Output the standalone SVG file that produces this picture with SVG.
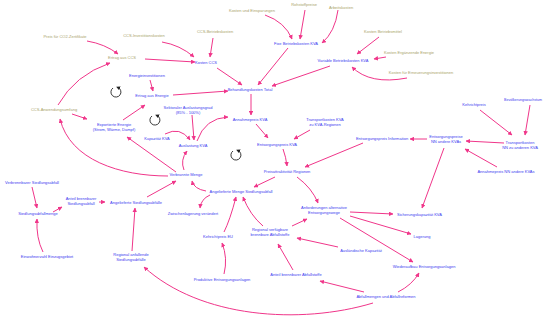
<svg xmlns="http://www.w3.org/2000/svg" width="544" height="324" viewBox="0 0 544 324">
<defs>
<marker id="ah" viewBox="0 0 10 10" refX="9" refY="5" markerWidth="4.5" markerHeight="4.5" markerUnits="userSpaceOnUse" orient="auto"><path d="M0,0 L10,5 L0,10 Z" fill="#f0368a"/></marker>
<marker id="lh" viewBox="0 0 10 10" refX="5" refY="5" markerWidth="4" markerHeight="4" markerUnits="userSpaceOnUse" orient="auto"><path d="M0,0 L10,5 L0,10 Z" fill="#222"/></marker>
</defs>
<style>
text{font-family:"Liberation Sans",Arial,sans-serif;font-size:4px;text-anchor:middle}
.b{fill:#3c3cf0}
.o{fill:#a9a46a}
#connectors path{fill:none;stroke:#f0368a;stroke-width:1;marker-end:url(#ah)}
.loop path{fill:none;stroke:#222;stroke-width:0.9;marker-end:url(#lh)}
</style>
<rect width="544" height="324" fill="#fff"/>
<g id="connectors">
<path d="M87,41 Q105,44 118,54"/>
<path d="M58,105 Q75,75 110,63"/>
<path d="M162,42 Q180,45 194,57"/>
<path d="M145,59 L195,62"/>
<path d="M213,38 L210,57"/>
<path d="M217,68 L242,85"/>
<path d="M288,48 L258,85"/>
<path d="M330,66 L272,86"/>
<path d="M265,15 Q285,22 292,39"/>
<path d="M305,10 L300,39"/>
<path d="M338,10 Q335,32 322,43"/>
<path d="M379,37 L357,54"/>
<path d="M386,57 L374,59"/>
<path d="M407,78 Q370,85 352,67"/>
<path d="M173,95 L228,91"/>
<path d="M150,80 L153,91"/>
<path d="M123,120 L145,105"/>
<path d="M72,114 L87,119"/>
<path d="M176,172 L127,137"/>
<path d="M168,176 C120,176 70,160 60,119"/>
<path d="M165,134 Q180,126 190,140"/>
<path d="M192,115 L194,140"/>
<path d="M197,141 Q205,118 228,117"/>
<path d="M251,94 L251,115"/>
<path d="M256,124 L268,138"/>
<path d="M310,130 L294,139"/>
<path d="M283,149 Q286,157 287,166"/>
<path d="M363,143 L305,167"/>
<path d="M275,177 L254,187"/>
<path d="M297,177 Q312,188 318,203"/>
<path d="M206,191 Q194,189 192,181"/>
<path d="M184,170 Q180,160 187,151"/>
<path d="M210,195 Q201,199 200,208"/>
<path d="M224,232 Q230,220 236,197"/>
<path d="M263,226 Q250,215 243,197"/>
<path d="M224,274 Q228,258 222,243"/>
<path d="M292,226 L307,219"/>
<path d="M338,247 L297,238"/>
<path d="M293,270 L278,244"/>
<path d="M364,292 L320,281"/>
<path d="M373,303 C300,325 200,318 144,267"/>
<path d="M398,292 Q412,285 419,273"/>
<path d="M350,212 L393,214"/>
<path d="M350,216 L411,234"/>
<path d="M340,218 L413,262"/>
<path d="M444,148 L422,208"/>
<path d="M427,139 L410,139"/>
<path d="M504,143 L466,141"/>
<path d="M497,167 L465,149"/>
<path d="M480,110 L512,135"/>
<path d="M530,105 L525,135"/>
<path d="M32,187 L37,208"/>
<path d="M43,252 Q36,238 37,219"/>
<path d="M53,212 L62,207"/>
<path d="M99,202 L105,202"/>
<path d="M147,197 L176,181"/>
<path d="M132,251 L135,208"/>
</g>
<g class="loop" id="loop1"><path d="M113,88 A5,5 0 1,0 118,87.5"/></g>
<g class="loop" id="loop2"><path d="M152,116 A5,5 0 1,0 157,115.5"/></g>
<g class="loop" id="loop3"><path d="M233,151 A5,5 0 1,0 238,150.5"/></g>
<g id="preis_co2"><text class="o" x="65" y="38">Preis für CO2-Zertifikate</text></g>
<g id="ertrag_ccs"><text class="o" x="122" y="59">Ertrag aus CCS</text></g>
<g id="ccs_invest"><text class="o" x="144" y="37">CCS-Investitionskosten</text></g>
<g id="ccs_betrieb"><text class="o" x="215" y="33">CCS-Betriebskosten</text></g>
<g id="kosten_einsp"><text class="o" x="252" y="12">Kosten und Einsparungen</text></g>
<g id="rohstoff"><text class="o" x="304" y="6">Rohstoffpreise</text></g>
<g id="arbeitskosten"><text class="o" x="341" y="9">Arbeitskosten</text></g>
<g id="kosten_ccs"><text class="b" x="206" y="64">Kosten CCS</text></g>
<g id="fixe"><text class="b" x="296" y="45">Fixe Betriebskosten KVA</text></g>
<g id="variable"><text class="b" x="343" y="62">Variable Betriebskosten KVA</text></g>
<g id="kosten_bm"><text class="o" x="383" y="33">Kosten Betriebsmittel</text></g>
<g id="kosten_energie"><text class="o" x="409" y="54">Kosten Ergänzende Energie</text></g>
<g id="kosten_erneuerung"><text class="o" x="421" y="74">Kosten für Erneuerungsinvestitionen</text></g>
<g id="behandlung"><text class="b" x="250" y="91">Behandlungskosten Total</text></g>
<g id="energieinv"><text class="b" x="147" y="77">Energieinvestitionen</text></g>
<g id="ertrag_energie"><text class="b" x="152" y="97">Ertrag aus Energie</text></g>
<g id="ccs_anw"><text class="o" x="54" y="111">CCS-Anwendungsumfang</text></g>
<g id="sektoral"><text class="b" x="188" y="109">Sektoraler Auslastungsgrad</text><text class="b" x="188" y="114">(85% - 100%)</text></g>
<g id="exportierte"><text class="b" x="114" y="126">Exportierte Energie</text><text class="b" x="114" y="131">(Strom, Wärme, Dampf)</text></g>
<g id="kapazitaet"><text class="b" x="157" y="140">Kapazität KVA</text></g>
<g id="auslastung"><text class="b" x="193" y="147">Auslastung KVA</text></g>
<g id="annahmepreis"><text class="b" x="250" y="121">Annahmepreis KVA</text></g>
<g id="transport"><text class="b" x="325" y="121">Transportkosten KVA</text><text class="b" x="325" y="126">zu KVA-Regionen</text></g>
<g id="entsorgungspreis"><text class="b" x="277" y="146">Entsorgungspreis KVA</text></g>
<g id="entsorg_info"><text class="b" x="382" y="140">Entsorgungspreis Information</text></g>
<g id="entsorg_andere"><text class="b" x="446" y="138">Entsorgungspreise</text><text class="b" x="446" y="143">NN andere KVAs</text></g>
<g id="kehrichtpreis"><text class="b" x="474" y="106">Kehrichtpreis</text></g>
<g id="bevoelkerung"><text class="b" x="542" y="101" style="text-anchor:end;font-size:3.6px">Bevölkerungswachstum</text></g>
<g id="transport_nn"><text class="b" x="520" y="144">Transportkosten</text><text class="b" x="520" y="149">NN zu anderen KVA</text></g>
<g id="annahme_nn"><text class="b" x="506" y="173">Annahmepreis NN andere KVAs</text></g>
<g id="verbrannt"><text class="b" x="186" y="176">Verbrannte Menge</text></g>
<g id="preisattr"><text class="b" x="287" y="173">Preisattraktivität Regionen</text></g>
<g id="angeliefert_menge"><text class="b" x="241" y="193">Angelieferte Menge Siedlungsabfall</text></g>
<g id="zwischenlager"><text class="b" x="193" y="215">Zwischenlagerung verändert</text></g>
<g id="anforderungen"><text class="b" x="324" y="209">Anforderungen alternative</text><text class="b" x="324" y="214">Entsorgungswege</text></g>
<g id="sicherung"><text class="b" x="397" y="216" style="text-anchor:start">Sicherungskapazität KVA</text></g>
<g id="lagerung"><text class="b" x="422" y="238">Lagerung</text></g>
<g id="wiederaufbau"><text class="b" x="424" y="268">Wiederaufbau Entsorgungsanlagen</text></g>
<g id="abfallmengen"><text class="b" x="386" y="298">Abfallmengen und Abfallreformen</text></g>
<g id="ausl_kap"><text class="b" x="361" y="252">Ausländische Kapazität</text></g>
<g id="anteil_stoffe"><text class="b" x="296" y="276">Anteil brennbarer Abfallstoffe</text></g>
<g id="regional_verf"><text class="b" x="270" y="231">Regional verfügbare</text><text class="b" x="270" y="236">brennbare Abfallstoffe</text></g>
<g id="kehricht_eu"><text class="b" x="218" y="238">Kehrichtpreis EU</text></g>
<g id="produktive"><text class="b" x="222" y="281">Produktive Entsorgungsanlagen</text></g>
<g id="verbrennbar"><text class="b" x="32" y="184">Verbrennbarer Siedlungsabfall</text></g>
<g id="siedlungsmenge"><text class="b" x="38" y="215">Siedlungsabfallmenge</text></g>
<g id="anteil_brennbar"><text class="b" x="81" y="200">Anteil brennbarer</text><text class="b" x="81" y="205">Siedlungsabfall</text></g>
<g id="angeliefert_sa"><text class="b" x="136" y="204">Angelieferte Siedlungsabfälle</text></g>
<g id="einwohner"><text class="b" x="47" y="258">Einwohnerzahl Einzugsgebiet</text></g>
<g id="regional_anf"><text class="b" x="131" y="256">Regional anfallende</text><text class="b" x="131" y="261">Siedlungsabfälle</text></g>
</svg>
